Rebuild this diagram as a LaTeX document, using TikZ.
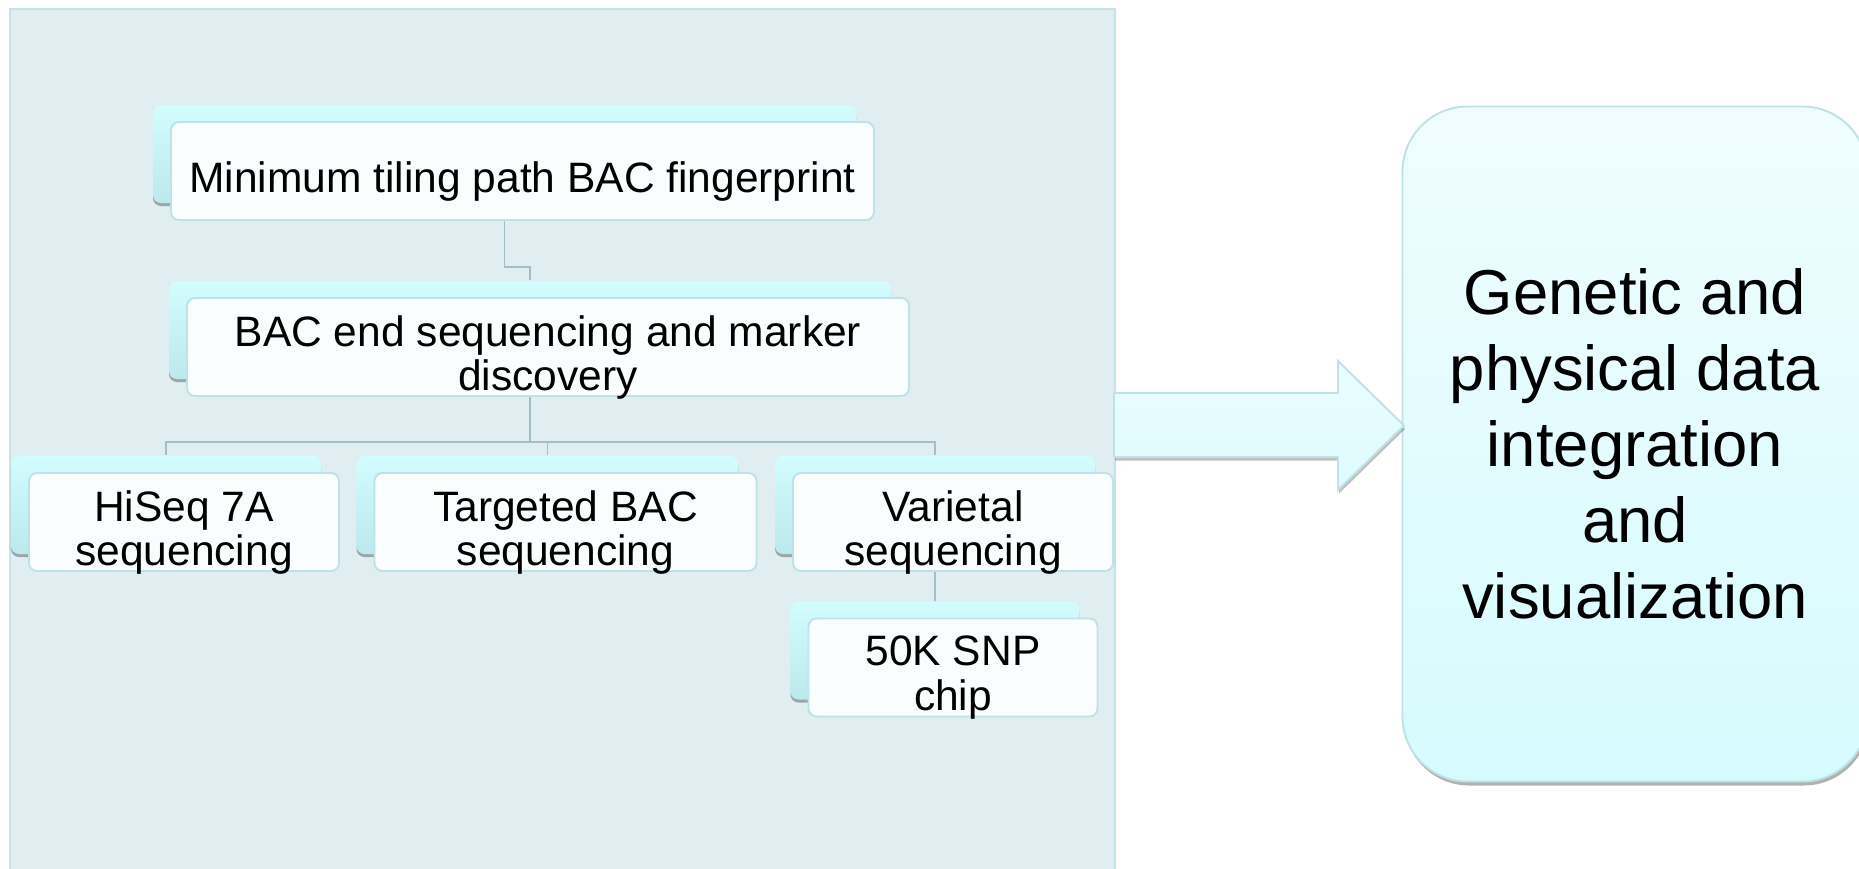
\documentclass[tikz,border=0pt]{standalone}
\usepackage{fontspec}
\setmainfont{Liberation Sans}
\usepackage{tikz}
\usetikzlibrary{positioning,shadows}

\definecolor{panelfill}{RGB}{224,238,242}
\definecolor{panelline}{RGB}{195,227,231}
\definecolor{boxline}{RGB}{190,226,230}
\definecolor{frontfill}{RGB}{249,253,254}
\definecolor{backtop}{RGB}{210,252,254}
\definecolor{backbot}{RGB}{188,233,237}
\definecolor{linkgray}{RGB}{160,192,198}
\definecolor{restop}{RGB}{240,253,254}
\definecolor{resbot}{RGB}{214,251,254}
\definecolor{arrowtop}{RGB}{234,253,254}
\definecolor{arrowbot}{RGB}{222,251,254}

\begin{document}
\begin{tikzpicture}[
  stepbox/.style={rectangle, draw=boxline, line width=1.1pt, rounded corners=0.16cm,
                  fill=frontfill, minimum height=1.96cm, inner sep=2pt,
                  general shadow={shadow xshift=-0.36cm, shadow yshift=0.28cm, fill=black, opacity=0.3},
                  general shadow={shadow xshift=-0.36cm, shadow yshift=0.34cm, top color=backtop, bottom color=backbot}},
  steptext/.style={align=center, yshift=-0.21cm, font=\fontsize{24.2pt}{25.6pt}\selectfont},
  resbox/.style={rectangle, draw=boxline, line width=1.1pt, rounded corners=1.3cm,
                 top color=restop, bottom color=resbot, minimum width=9.3cm, minimum height=13.5cm,
                 align=center, font=\fontsize{36.1pt}{43.2pt}\selectfont,
                 general shadow={shadow xshift=0.03cm, shadow yshift=-0.08cm, fill=black, opacity=0.3}},
  link/.style={draw=linkgray, line width=1.1pt},
]
  \useasboundingbox (0,0) rectangle (37.18,-17.38);

  % Background panel
  \fill[panelfill] (0.2,-0.18) rectangle (22.3,-17.6);
  \draw[panelline, line width=1.6pt] (0.2,-0.18) rectangle (22.3,-17.6);

  % Steps
  \node[stepbox, minimum width=14.06cm, label={[steptext]center:Minimum tiling path BAC fingerprint}] (mtp) at (10.45,-3.42) {};
  \node[stepbox, minimum width=14.44cm, label={[steptext]center:{BAC end sequencing and marker\\discovery}}] (bes) at (10.96,-6.94) {};
  \node[stepbox, minimum width=6.2cm, label={[steptext]center:{HiSeq 7A\\sequencing}}] (hiseq) at (3.68,-10.44) {};
  \node[stepbox, minimum width=7.64cm, label={[steptext]center:{Targeted BAC\\sequencing}}] (tbac) at (11.31,-10.44) {};
  \node[stepbox, minimum width=6.4cm, label={[steptext]center:{Varietal\\sequencing}}] (var) at (19.06,-10.44) {};
  \node[stepbox, minimum width=5.78cm, label={[steptext]center:{50K SNP\\chip}}] (snp) at (19.06,-13.35) {};

  % Tree connectors
  \draw[link] ([xshift=-0.36cm]mtp.south) -- ++(0,-0.92) -| ([xshift=-0.36cm,yshift=0.34cm]bes.north);
  \foreach \n in {hiseq,tbac,var}
    \draw[link] ([xshift=-0.36cm]bes.south) -- ++(0,-0.9) -| ([xshift=-0.36cm,yshift=0.34cm]\n.north);
  \draw[link] ([xshift=-0.36cm]var.south) -- ([xshift=-0.36cm,yshift=0.34cm]snp.north);

  % Result
  \node[resbox] (res) at (32.7,-8.88) {Genetic and\\physical data\\integration\\and\\visualization};

  % Block arrow
  \draw[draw=boxline, line width=1.1pt, top color=arrowtop, bottom color=arrowbot,
        general shadow={shadow xshift=0.02cm, shadow yshift=-0.07cm, fill=black, opacity=0.25}]
    (22.28,-7.86) -- (26.76,-7.86) -- (26.76,-7.22) -- (28.08,-8.51)
    -- (26.76,-9.8) -- (26.76,-9.14) -- (22.28,-9.14) -- cycle;
\end{tikzpicture}
\end{document}
